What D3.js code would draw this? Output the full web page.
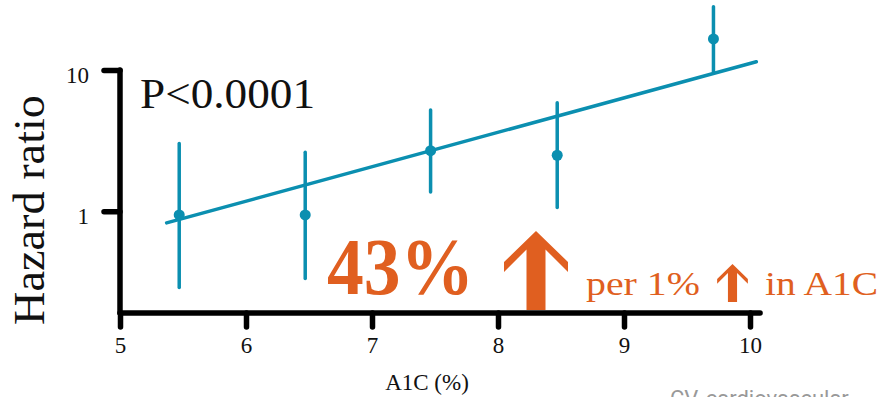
<!DOCTYPE html>
<html>
<head>
<meta charset="utf-8">
<script src="https://cdn.jsdelivr.net/npm/d3@7"></script>
<style>
  html, body { margin: 0; padding: 0; background: #fff; }
  svg { display: block; }
  text { font-family: "Liberation Serif", "DejaVu Serif", serif; }
</style>
</head>
<body>
<svg id="chart" width="886" height="397"></svg>
<script>
// A1C category midpoints (%)
const a1c = [5.47, 6.47, 7.465, 8.47, 9.71];
// Hazard ratio point estimates and confidence limits
const hazard = [0.94, 0.94, 2.68, 2.49, 16.6];
const lowerCI = [0.288, 0.333, 1.37, 1.06, 9.72];
const upperCI = [3.02, 2.61, 5.2, 5.86, 28.1];
// Fitted log-linear trend, end points
const fitA1c = [5.37, 10.05];
const fitHazard = [0.826, 11.45];
// Axis ticks
const xTicks = [5, 6, 7, 8, 9, 10];
const yTicks = [1, 10];
const yTickLabels = ["1", "10"];

const teal = "#0b8fb0";
const orange = "#e05f20";
const serif = "'Liberation Serif', 'DejaVu Serif', serif";

const svg = d3.select("#chart");

const x = d3.scaleLinear().domain([5, 10]).range([120, 750]);
const y = d3.scaleLog().domain([0.19, 10]).range([313, 70]);

// Axes
const xAxis = d3.axisBottom(x).tickValues(xTicks).tickSize(14).tickPadding(10)
  .tickFormat(d3.format("d"));
const gx = svg.append("g").attr("transform", `translate(0,313)`).call(xAxis);
gx.attr("font-family", serif);
gx.select(".domain").remove();
gx.selectAll(".tick line").attr("stroke", "#000").attr("stroke-width", 5.5)
  .attr("stroke-linecap", "round");
gx.selectAll(".tick text").attr("font-size", 23).attr("fill", "#111");

const yAxis = d3.axisLeft(y).tickValues(yTicks).tickSize(16).tickPadding(15)
  .tickFormat((d, i) => yTickLabels[i]);
const gy = svg.append("g").attr("transform", `translate(120,0)`).call(yAxis);
gy.attr("font-family", serif);
gy.select(".domain").remove();
gy.selectAll(".tick line").attr("stroke", "#000").attr("stroke-width", 5.5)
  .attr("stroke-linecap", "round");
gy.selectAll(".tick text").attr("font-size", 23).attr("fill", "#111").attr("dy", "0.55em");

// Axis lines
svg.append("line").attr("x1", 120).attr("x2", 120).attr("y1", y(10)).attr("y2", 313)
  .attr("stroke", "#000").attr("stroke-width", 5.5).attr("stroke-linecap", "round");
svg.append("line").attr("x1", 120).attr("x2", x(10.08)).attr("y1", 313).attr("y2", 313)
  .attr("stroke", "#000").attr("stroke-width", 5.5).attr("stroke-linecap", "round");

// Trend line
const line = d3.line().x(d => x(d[0])).y(d => y(d[1]));
svg.append("path").datum(d3.zip(fitA1c, fitHazard)).attr("d", line)
  .attr("fill", "none").attr("stroke", teal).attr("stroke-width", 3.5)
  .attr("stroke-linecap", "round");

// Error bars and points
const pts = a1c.map((v, i) => ({ a: v, hr: hazard[i], lo: lowerCI[i], hi: upperCI[i] }));
svg.append("g").selectAll("line").data(pts).join("line")
  .attr("x1", d => x(d.a)).attr("x2", d => x(d.a))
  .attr("y1", d => y(d.lo)).attr("y2", d => y(d.hi))
  .attr("stroke", teal).attr("stroke-width", 3.5).attr("stroke-linecap", "round");
svg.append("g").selectAll("circle").data(pts).join("circle")
  .attr("cx", d => x(d.a)).attr("cy", d => y(d.hr)).attr("r", 5.5).attr("fill", teal);

// Axis titles
svg.append("text").attr("transform", "translate(44,210) rotate(-90)")
  .attr("text-anchor", "middle").attr("font-size", 45).attr("fill", "#111")
  .attr("textLength", 230).attr("lengthAdjust", "spacingAndGlyphs")
  .text("Hazard ratio");
svg.append("text").attr("x", 427).attr("y", 390).attr("text-anchor", "middle")
  .attr("font-size", 23).attr("fill", "#111").text("A1C (%)");

// P-value
svg.append("text").attr("x", 140).attr("y", 108).attr("font-size", 42).attr("fill", "#111")
  .attr("textLength", 175).attr("lengthAdjust", "spacingAndGlyphs").text("P<0.0001");

// Up-arrow shape with its tip at the origin; s scales it
function arrowPath(s) {
  const p = [[0, 0], [32, 31], [32, 41], [9.5, 18.5], [9.5, 79], [-9.5, 79],
             [-9.5, 18.5], [-32, 41], [-32, 31]];
  return "M" + p.map(q => `${q[0] * s},${q[1] * s}`).join("L") + "Z";
}

// Annotation
svg.append("text").attr("x", 327).attr("y", 294).attr("font-size", 80)
  .attr("font-weight", "bold").attr("fill", orange)
  .attr("textLength", 147).attr("lengthAdjust", "spacingAndGlyphs").text("43%");
svg.append("path").attr("transform", "translate(536,231)").attr("d", arrowPath(1))
  .attr("fill", orange);
svg.append("text").attr("x", 586).attr("y", 295).attr("font-size", 34).attr("fill", orange)
  .attr("textLength", 114).attr("lengthAdjust", "spacingAndGlyphs").text("per 1%");
svg.append("path").attr("transform", "translate(732.5,264)").attr("d", arrowPath(0.48))
  .attr("fill", orange);
svg.append("text").attr("x", 765).attr("y", 295).attr("font-size", 34).attr("fill", orange)
  .attr("textLength", 113).attr("lengthAdjust", "spacingAndGlyphs").text("in A1C");

// Footnote
svg.append("text").attr("x", 670).attr("y", 406).attr("font-size", 22).attr("fill", "#999")
  .style("font-family", "Roboto, 'Noto Sans', sans-serif").text("CV, cardiovascular");
</script>
</body>
</html>
